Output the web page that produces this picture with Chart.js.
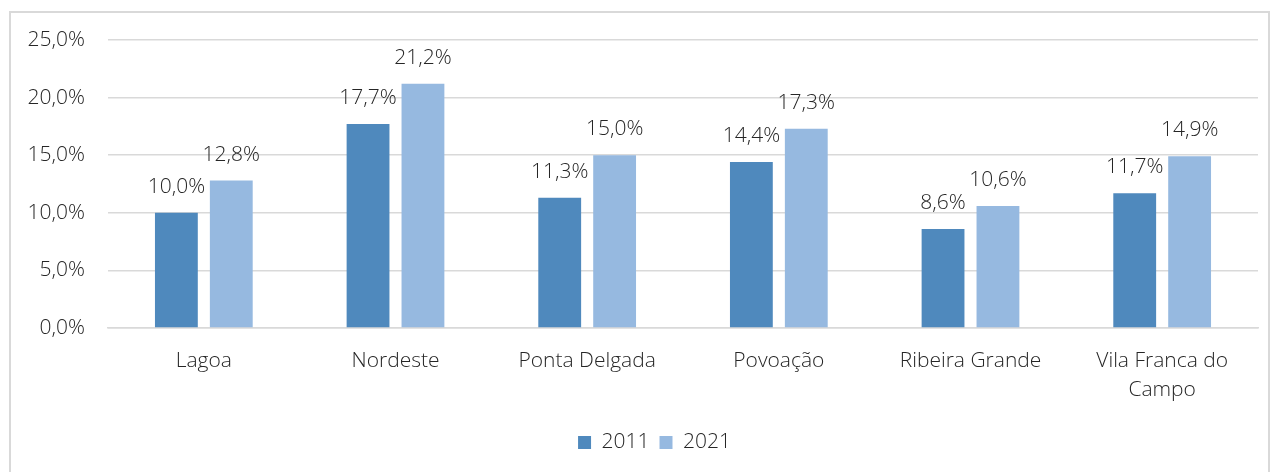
<!DOCTYPE html>
<html>
<head>
<meta charset="utf-8">
<script src="https://cdn.jsdelivr.net/npm/chart.js@4"></script>
<style>
  body { margin: 0; background: #fff; }
  #wrap {
    position: absolute; left: 9px; top: 11px;
    width: 1257px; height: 460px;
    border: 2px solid #d9d9d9;
  }
</style>
</head>
<body>
<div id="wrap"><canvas id="chart-1"></canvas></div>
<script>
const municipalities = ['Lagoa', 'Nordeste', 'Ponta Delgada', 'Povoação', 'Ribeira Grande', ['Vila Franca do', 'Campo']];
const values2011 = [10.0, 17.7, 11.3, 14.4, 8.6, 11.7];
const values2021 = [12.8, 21.2, 15.0, 17.3, 10.6, 14.9];
const yTicks = [0, 5, 10, 15, 20, 25];

const fmt = v => v.toFixed(1).replace('.', ',') + '%';

Chart.defaults.font.family = '"Open Sans", sans-serif';
Chart.defaults.font.weight = 300;
Chart.defaults.color = '#262626';
Chart.defaults.maintainAspectRatio = false;
Chart.defaults.responsive = true;

// Excel style labels above each bar
const barLabels = {
  id: 'barLabels',
  afterDatasetsDraw(chart) {
    const ctx = chart.ctx;
    ctx.save();
    ctx.font = '300 21px "Open Sans", sans-serif';
    ctx.fillStyle = '#262626';
    ctx.textAlign = 'center';
    ctx.textBaseline = 'middle';
    chart.data.datasets.forEach((ds, i) => {
      chart.getDatasetMeta(i).data.forEach((bar, j) => {
        ctx.fillText(fmt(ds.data[j]), bar.x, bar.y - 26);
      });
    });
    ctx.restore();
  }
};

// legend sits a bit right of the canvas centre in the original
const legendShift = {
  id: 'legendShift',
  afterLayout(chart) {
    if (chart.legend) {
      chart.legend.left += 20;
      chart.legend.right += 20;
    }
  }
};

const myChart = new Chart('chart-1', {
  type: 'bar',
  data: {
    labels: municipalities,
    datasets: [
      {
        label: '2011',
        data: values2011,
        backgroundColor: '#4f89bd',
        categoryPercentage: 0.573,
        barPercentage: 0.78
      },
      {
        label: '2021',
        data: values2021,
        backgroundColor: '#96b9e0',
        categoryPercentage: 0.573,
        barPercentage: 0.78
      }
    ]
  },
  options: {
    animation: false,
    layout: { padding: { top: 27, right: 10, bottom: 10, left: 0 } },
    scales: {
      x: {
        grid: { display: false, drawTicks: false },
        border: { color: '#d9d9d9', width: 1.5 },
        ticks: { font: { size: 21, lineHeight: 1.38 }, padding: 19, maxRotation: 0 },
        afterFit: s => { s.height = 94; s.paddingLeft = 0; s.paddingRight = 0; }
      },
      y: {
        min: 0,
        max: 25,
        afterBuildTicks: s => { s.ticks = yTicks.map(v => ({ value: v })); },
        grid: { color: '#d9d9d9', lineWidth: 1.5, drawTicks: false },
        border: { display: false },
        ticks: { font: { size: 21 }, padding: 23, callback: v => fmt(v) },
        afterFit: s => { s.width = 97; s.paddingTop = 0; s.paddingBottom = 0; }
      }
    },
    plugins: {
      legend: {
        display: true,
        position: 'bottom',
        labels: { boxWidth: 13, boxHeight: 13, padding: 10, font: { size: 21 } }
      },
      tooltip: { enabled: false }
    }
  },
  plugins: [barLabels, legendShift]
});
</script>
</body>
</html>
